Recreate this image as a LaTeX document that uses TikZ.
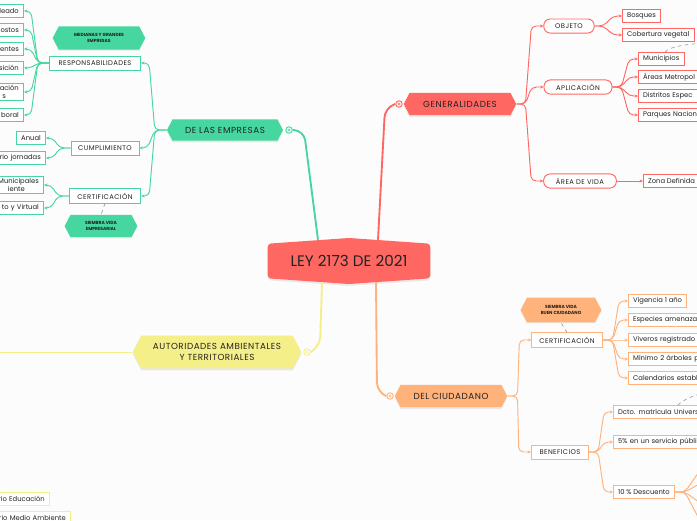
\documentclass[tikz,border=0pt]{standalone}
\usepackage{fontspec}
\setmainfont{Poppins}
\newfontfamily\spacedfont[LetterSpace=6]{Poppins}
\usepackage{tikz}
\usetikzlibrary{
  positioning,
  arrows.meta,
  shapes.symbols,
  shadows,
  calc
}

\definecolor{leyred}{RGB}{255,104,98}
\definecolor{empgreen}{RGB}{70,214,160}
\definecolor{autyellow}{RGB}{245,239,138}
\definecolor{ciuorange}{RGB}{255,178,122}
\definecolor{pagebg}{RGB}{252,252,252}
\definecolor{relgrey}{RGB}{130,150,165}
\definecolor{inkdark}{RGB}{34,34,34}

\begin{document}
\begin{tikzpicture}[
  x=0.03cm, y=-0.03cm,
  text=inkdark,
  topic/.style={
    signal, signal to=west and east, signal pointer angle=125,
    fill=#1, inner sep=1pt, align=center,
    font=\fontsize{7.5}{9}\selectfont\spacedfont,
    drop shadow={shadow xshift=0pt, shadow yshift=-1.6pt, opacity=0.16}
  },
  pill/.style={
    rectangle, rounded corners=5.5pt, draw=#1, fill=white,
    line width=0.8pt, minimum height=12pt, inner xsep=2pt,
    font=\fontsize{5.8}{7}\selectfont\spacedfont
  },
  subbox/.style={
    rectangle, draw=#1, fill=white, line width=0.8pt,
    minimum height=12pt, inner xsep=2pt,
    font=\fontsize{5.8}{7}\selectfont\spacedfont
  },
  leaf/.style={
    rectangle, draw=#1, fill=white, line width=0.8pt,
    minimum height=11pt, inner xsep=4pt, inner ysep=1.5pt,
    font=\fontsize{5.8}{7}\selectfont
  },
  tag/.style={
    signal, signal to=west and east, signal pointer angle=125,
    fill=#1, align=center, inner sep=1pt,
    font=\fontsize{3.8}{4.6}\selectfont\bfseries,
    drop shadow={shadow xshift=0pt, shadow yshift=-1pt, opacity=0.12}
  },
  knob/.style={
    circle, draw=#1, fill=white, line width=0.8pt,
    inner sep=0pt, minimum size=5.5pt,
    path picture={\draw[#1, line width=0.5pt] (path picture bounding box.center) circle (1.1pt);}
  },
  trunk/.style={draw=#1, line width=1.6pt, rounded corners=8pt},
  link/.style={draw=#1, line width=0.8pt, rounded corners=4pt,
    -{Stealth[length=2.8pt, width=2.6pt]}},
  relation/.style={draw=relgrey, dashed, line width=0.5pt}
]

\path[use as bounding box, fill=pagebg] (0,0) rectangle (697,520);
\clip (0,0) rectangle (697,520);

% Central node
\node[signal, signal to=north and south, signal pointer angle=172,
  rounded corners=3pt, fill=leyred, minimum width=139pt, minimum height=37pt,
  font=\fontsize{13}{15}\selectfont,
  drop shadow={shadow xshift=0pt, shadow yshift=-1.6pt, opacity=0.16}] (ley) at (349,261) {LEY 2173 DE 2021};

% Main topics
\node[topic=leyred, minimum width=96pt, minimum height=19pt] (gen) at (460,104) {GENERALIDADES};
\node[topic=empgreen, minimum width=99pt, minimum height=18pt] (emp) at (225,130) {DE LAS EMPRESAS};
\node[topic=autyellow, minimum width=144pt, minimum height=28pt] (aut) at (217,352) {AUTORIDADES AMBIENTALES\\Y TERRITORIALES};
\node[topic=ciuorange, minimum width=96pt, minimum height=19pt] (ciu) at (451,396) {DEL CIUDADANO};

\node[knob=leyred] (genknob) at (399,104) {};
\node[knob=empgreen] (empknob) at (289,130) {};
\node[knob=autyellow] (autknob) at (307,352) {};
\node[knob=ciuorange] (ciuknob) at (390,396) {};

% Trunks from the central node
\draw[trunk=empgreen] (empknob.east) -- (304,131) -- ($(ley.north)+(-31,2)$);
\draw[trunk=leyred] ($(ley.north)+(29,2)$) -- (385,108) -- (genknob.west);
\draw[trunk=autyellow] ($(ley.south)+(-27,-2)$) -- (320,346) -- (autknob.east);
\draw[trunk=ciuorange] ($(ley.south)+(27,-2)$) -- (377,392) -- (ciuknob.west);

% Generalidades
\node[pill=leyred, minimum width=43pt] (obj) at (569,26) {OBJETO};
\node[pill=leyred, minimum width=58pt] (apl) at (578,87) {APLICACIÓN};
\node[pill=leyred, minimum width=62pt] (area) at (580,181) {ÁREA DE VIDA};

\node[leaf=leyred, anchor=west] (bosq) at (622,16) {Bosques};
\node[leaf=leyred, anchor=west] (cob) at (622,35) {Cobertura vegetal};
\node[leaf=leyred, anchor=west] (mun) at (638,59) {Municipios};
\node[leaf=leyred, anchor=west, text width=70pt, align=left] (amet) at (638,77) {Áreas Metropol};
\node[leaf=leyred, anchor=west, text width=70pt, align=left] (dist) at (638,96) {Distritos Espec};
\node[leaf=leyred, anchor=west, text width=70pt, align=left] (parq) at (638,115) {Parques Nacion};
\node[leaf=leyred, anchor=west] (zona) at (643,181) {Zona Definida};

\foreach \n in {obj,apl,area}
  \draw[link=leyred] (gen.east) -- ++(9,0) -- ($(\n.west)+(-12,0)$) -- (\n.west);
\foreach \n in {bosq,cob}
  \draw[link=leyred] (obj.east) -- ++(9,0) -- ($(\n.west)+(-9,0)$) -- (\n.west);
\foreach \n in {mun,amet,dist,parq}
  \draw[link=leyred] (apl.east) -- ++(9,0) -- ($(\n.west)+(-9,0)$) -- (\n.west);
\draw[link=leyred] (area.east) -- (zona.west);

\coordinate (munrel) at (705,43);
\draw[relation] ($(mun.north)+(4,0)$) .. controls +(4,-6) and +(-15,1) .. (munrel);

% De las empresas
\node[subbox=empgreen, minimum width=78pt] (resp) at (95,63) {RESPONSABILIDADES};
\node[subbox=empgreen, minimum width=58pt] (cump) at (105,148) {CUMPLIMIENTO};
\node[subbox=empgreen, minimum width=61pt] (certe) at (105,196) {CERTIFICACIÓN};

\node[tag=empgreen, minimum width=79pt, minimum height=20pt] (medianas) at (99,38) {MEDIANAS Y GRANDES\\EMPRESAS};
\node[tag=empgreen, minimum width=62pt, minimum height=19pt] (sembemp) at (101,226) {SIEMBRA VIDA\\EMPRESARIAL};

\node[leaf=empgreen, anchor=east, text width=50pt, align=right] (rl1) at (24,11) {leado};
\node[leaf=empgreen, anchor=east, text width=50pt, align=right] (rl2) at (24,30) {ostos};
\node[leaf=empgreen, anchor=east, text width=50pt, align=right] (rl3) at (24,49) {entes};
\node[leaf=empgreen, anchor=east, text width=50pt, align=right] (rl4) at (24,68) {sición};
\node[leaf=empgreen, anchor=east, text width=50pt, align=right] (rl5) at (24,92) {ación\\s\hspace*{11pt}};
\node[leaf=empgreen, anchor=east, text width=50pt, align=right] (rl6) at (24,115) {boral};

\node[leaf=empgreen] (cl1) at (31,138) {Anual};
\node[leaf=empgreen, anchor=east, text width=50pt, align=right] (cl2) at (46,158) {rio jornadas};
\node[leaf=empgreen, anchor=east, text width=50pt, align=right] (kl1) at (44,185) {Municipales\hspace*{3pt}\\iente\hspace*{12pt}};
\node[leaf=empgreen, anchor=east, text width=50pt, align=right] (kl2) at (44,208) {to y Virtual};

\foreach \n in {resp,cump,certe}
  \draw[link=empgreen] (emp.west) -- ++(-12,0) -- ($(\n.east)+(8,0)$) -- (\n.east);
\foreach \n in {rl1,rl2,rl3,rl4,rl5,rl6}
  \draw[link=empgreen] (resp.west) -- ++(-11,0) -- ($(\n.east)+(7,0)$) -- (\n.east);
\foreach \n in {cl1,cl2}
  \draw[link=empgreen] (cump.west) -- ++(-11,0) -- ($(\n.east)+(7,0)$) -- (\n.east);
\foreach \n in {kl1,kl2}
  \draw[link=empgreen] (certe.west) -- ++(-11,0) -- ($(\n.east)+(7,0)$) -- (\n.east);
\draw[relation] (certe.south) -- (sembemp.north);

% Autoridades
\coordinate (autout) at (-20,352);
\draw[link=autyellow] (aut.west) -- (autout);
\node[leaf=autyellow, anchor=east, text width=60pt, align=right] (ay1) at (50,499) {rio Educación};
\node[leaf=autyellow, anchor=east, text width=80pt, align=right] (ay2) at (71,518) {rio Medio Ambiente};

% Del ciudadano
\node[subbox=ciuorange, minimum width=60pt] (certc) at (567,340) {CERTIFICACIÓN};
\node[subbox=ciuorange, minimum width=49pt] (benef) at (560,452) {BENEFICIOS};
\node[tag=ciuorange, minimum width=69pt, minimum height=21pt] (sembciu) at (561,310) {SIEMBRA VIDA\\BUEN CIUDADANO};

\node[leaf=ciuorange, anchor=west] (vig) at (628,301) {Vigencia 1 año};
\node[leaf=ciuorange, anchor=west, text width=80pt, align=left] (esp) at (628,320) {Especies amenaza};
\node[leaf=ciuorange, anchor=west, text width=80pt, align=left] (viv) at (628,340) {Viveros registrado};
\node[leaf=ciuorange, anchor=west, text width=80pt, align=left] (mini) at (628,359) {Mínimo 2 árboles p};
\node[leaf=ciuorange, anchor=west, text width=80pt, align=left] (cal) at (628,378) {Calendarios establ};
\node[leaf=ciuorange, anchor=west, text width=90pt, align=left] (dcto) at (613,412) {Dcto. matrícula Univers};
\node[leaf=ciuorange, anchor=west, text width=90pt, align=left] (cinco) at (613,442) {5\% en un servicio públi};
\node[leaf=ciuorange, anchor=west] (desc) at (613,492) {10 \% Descuento};

\foreach \n in {certc,benef}
  \draw[link=ciuorange] (ciu.east) -- ++(10,0) -- ($(\n.west)+(-12,0)$) -- (\n.west);
\foreach \n in {vig,esp,viv,mini,cal}
  \draw[link=ciuorange] (certc.east) -- ++(10,0) -- ($(\n.west)+(-9,0)$) -- (\n.west);
\foreach \n in {dcto,cinco,desc}
  \draw[link=ciuorange] (benef.east) -- ++(9,0) -- ($(\n.west)+(-9,0)$) -- (\n.west);
\draw[relation] (certc.north) -- (sembciu.south);

\coordinate (d1) at (722,456);
\coordinate (d2) at (722,478);
\coordinate (d3) at (722,510);
\coordinate (d4) at (722,540);
\foreach \n in {d1,d2,d3,d4}
  \draw[link=ciuorange] (desc.east) -- ++(10,0) -- ($(\n)+(-12,0)$) -- (\n);

\coordinate (dctorel) at (705,393);
\draw[relation] ($(dcto.north west)+(65,0)$) .. controls +(5,-5) and +(-12,2) .. (dctorel);

\end{tikzpicture}
\end{document}
